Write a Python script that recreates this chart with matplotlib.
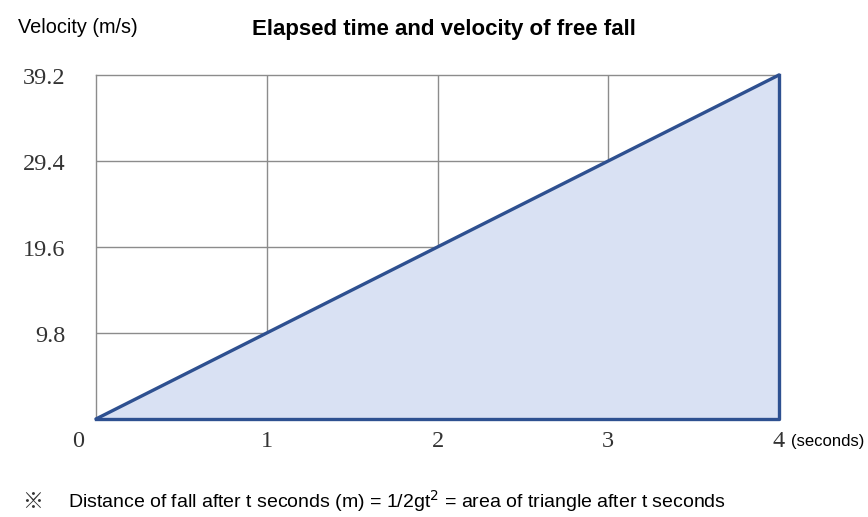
import matplotlib.pyplot as plt
import matplotlib.transforms as mtransforms

# data: free fall velocity v = g*t
t = [0, 1, 2, 3, 4]
v = [0, 9.8, 19.6, 29.4, 39.2]
xticks = [1, 2, 3, 4]
yticks = [9.8, 19.6, 29.4, 39.2]
ylabels = ['9.8', '19.6', '29.4', '39.2']

SANS = 'Liberation Sans'
SERIF = 'Liberation Serif'
EDGE = '#2E5090'
FILL = '#D9E1F3'
GRID = '#8C8C8C'

fig = plt.figure(figsize=(8.68, 5.17), dpi=100)
ax = fig.add_axes([0.1106, 0.1896, 0.7869, 0.6654])
ax.set_xlim(0, 4)
ax.set_ylim(0, 39.2)

# grid under the triangle
for x in xticks[:-1]:
    ax.axvline(x, color=GRID, lw=1.0, zorder=1)
for y in yticks[:-1]:
    ax.axhline(y, color=GRID, lw=1.0, zorder=1)

ax.fill_between(t, 0, v, color=FILL, zorder=2)
ax.plot(t, v, color=EDGE, lw=2.4, zorder=3, solid_capstyle='round', clip_on=False)
ax.plot([t[0], t[-1], t[-1]], [0, 0, v[-1]], color=EDGE, lw=2.4, zorder=3, clip_on=False)

for side in ['top', 'left']:
    ax.spines[side].set_color(GRID)
    ax.spines[side].set_linewidth(1.0)
for side in ['bottom', 'right']:
    ax.spines[side].set_visible(False)

ax.set_xticks(xticks)
ax.set_xticklabels([str(x) for x in xticks], fontfamily=SERIF, fontsize=17.5)
ax.set_yticks(yticks)
ax.set_yticklabels(ylabels, fontfamily=SERIF, fontsize=17.5)
ax.tick_params(length=0, colors='#333333')
ax.tick_params(axis='x', pad=9)
ax.tick_params(axis='y', pad=22)
shift = mtransforms.ScaledTranslation(0, -4 / 100, fig.dpi_scale_trans)
for lab in ax.get_yticklabels():
    lab.set_verticalalignment('center')
    lab.set_transform(lab.get_transform() + shift)

ax.text(-0.018, -0.035, '0', transform=ax.transAxes, ha='right', va='top',
        fontfamily=SERIF, fontsize=17.5, color='#333333')
ax.text(1.017, -0.045, '(seconds)', transform=ax.transAxes, ha='left', va='top',
        fontfamily=SANS, fontsize=12)

fig.text(0.021, 0.947, 'Velocity (m/s)', ha='left', va='center', fontfamily=SANS, fontsize=14.3)
fig.text(0.511, 0.943, 'Elapsed time and velocity of free fall', ha='center', va='center',
         fontfamily=SANS, fontsize=16, fontweight='bold')
fig.text(0.025, 0.03, '※', ha='left', va='center', family=['Noto Sans CJK JP', 'DejaVu Sans'],
         fontsize=15, color='#333333')
fig.text(0.078, 0.03, 'Distance of fall after t seconds (m) = 1/2gt$^2$ = area of triangle after t seconds',
         ha='left', va='center', fontfamily=SANS, fontsize=14)

fig.savefig('out.png', dpi=100)
